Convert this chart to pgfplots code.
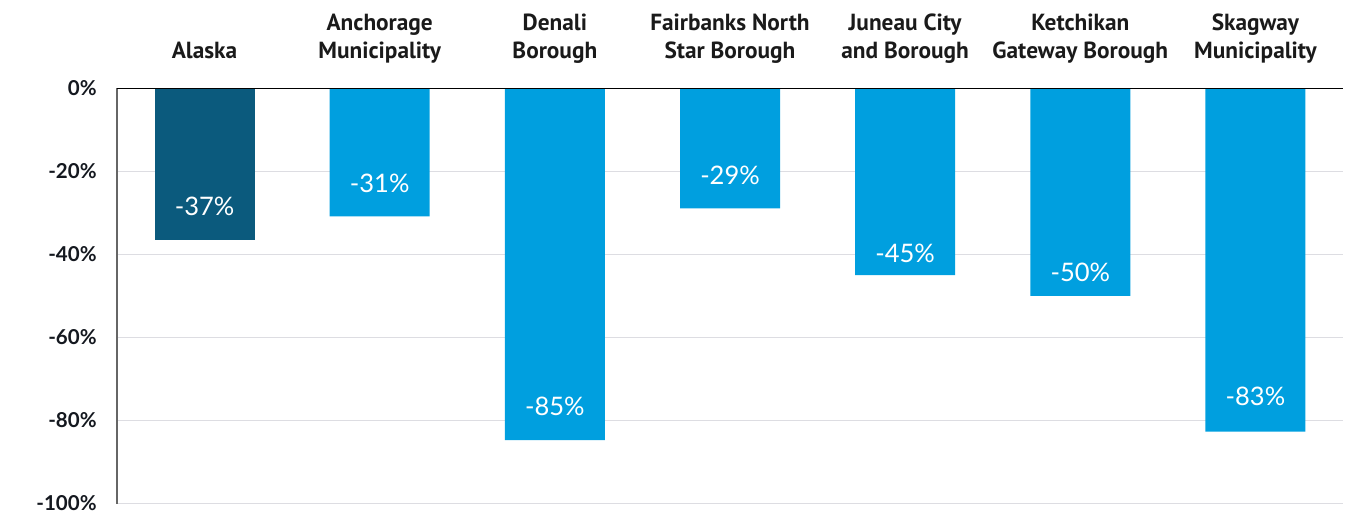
\documentclass[border=0pt]{standalone}
\usepackage{fontspec}
\setmainfont{PT Sans}
\newfontfamily\catfont{PT Sans}
\newfontfamily\numfont{Lato}
\usepackage{pgfplots}
\pgfplotsset{compat=1.18}
\definecolor{darkbar}{HTML}{0B5A7D}
\definecolor{lightbar}{HTML}{009FDF}
\definecolor{gridc}{HTML}{DDDDE2}
\definecolor{txt}{HTML}{1A1A1A}
\definecolor{tickc}{HTML}{14181F}
\begin{document}
\begin{tikzpicture}
\begin{axis}[name=ax, scale only axis, width=613bp, height=207.5bp,
  xmin=-0.5, xmax=6.5, ymin=-100, ymax=0,
  axis x line*=top, axis y line*=left,
  x axis line style={draw=none},
  y axis line style={draw=black!60, line width=0.75bp, -},
  xtick={0,1,2,3,4,5,6},
  xticklabels={Alaska\strut, Anchorage\\Municipality\strut, Denali\\Borough\strut, Fairbanks North\\Star Borough\strut, Juneau City\\and Borough\strut, Ketchikan\\Gateway Borough\strut, Skagway\\Municipality\strut},
  xticklabel style={anchor=south, align=center, inner sep=0pt, yshift=10.5bp, font=\catfont\bfseries\fontsize{11.7}{14}\selectfont, text=txt},
  ytick={-100,-80,-60,-40,-20,0},
  yticklabels={-100\%,-80\%,-60\%,-40\%,-20\%,0\%},
  yticklabel style={anchor=east, inner sep=0pt, xshift=-10bp, font=\numfont\bfseries\fontsize{10.3}{12}\selectfont, text=tickc},
  major tick length=0pt,
  ymajorgrids, major grid style={gridc, line width=0.6bp},
]
\addplot[ybar, bar width=50bp, bar shift=0pt, fill=darkbar, draw=none] coordinates {(0,-36.6)};
\addplot[ybar, bar width=50bp, bar shift=0pt, fill=lightbar, draw=none] coordinates {(1,-30.8) (2,-84.7) (3,-28.9) (4,-45.0) (5,-50.0) (6,-82.7)};
\addplot[draw=none, mark=none, point meta=explicit symbolic,
  nodes near coords={\pgfplotspointmeta\%},
  nodes near coords style={anchor=center, inner sep=0pt, text=white, font=\numfont\fontsize{12.8}{14}\selectfont}]
  coordinates {(0,-28.4)[-37] (1,-22.8)[-31] (2,-76.5)[-85] (3,-21.0)[-29] (4,-39.8)[-45] (5,-44.4)[-50] (6,-74.1)[-83]};
\draw[black, line width=0.65bp] (rel axis cs:0,1) -- (rel axis cs:1,1);
\end{axis}
\pgfresetboundingbox
\path ([xshift=-58.5bp,yshift=-5.75bp]ax.south west) rectangle ([xshift=8bp,yshift=44.25bp]ax.north east);
\end{tikzpicture}
\end{document}
